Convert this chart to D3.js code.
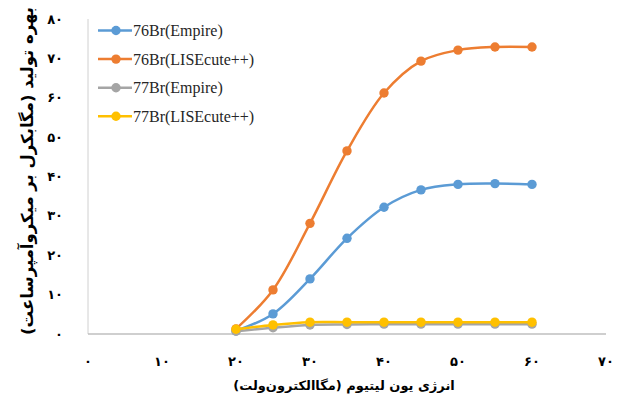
<!DOCTYPE html>
<html>
<head>
<meta charset="utf-8">
<script src="https://cdn.jsdelivr.net/npm/d3@7"></script>
<style>
  html, body { margin: 0; padding: 0; background: #fff; }
  svg { display: block; }
</style>
</head>
<body>
<div id="chart"></div>
<script>
// Lithium-ion energy (MeV) at which each yield was computed
const energies = [20, 25, 30, 35, 40, 45, 50, 55, 60];

// Production yield (MBq/µAh) per isotope and code
const br76Empire    = [0.8, 5.1, 14.0, 24.3, 32.2, 36.6, 38.0, 38.2, 38.0];
const br76Lisecute  = [1.3, 11.2, 28.1, 46.5, 61.2, 69.3, 72.1, 72.9, 72.9];
const br77Empire    = [0.7, 1.6, 2.3, 2.4, 2.5, 2.5, 2.5, 2.5, 2.5];
const br77Lisecute  = [1.2, 2.3, 3.0, 3.0, 3.0, 3.0, 3.0, 3.0, 3.0];

const seriesNames = ["76Br(Empire)", "76Br(LISEcute++)", "77Br(Empire)", "77Br(LISEcute++)"];
const seriesColors = ["#5B9BD5", "#ED7D31", "#A5A5A5", "#FFC000"];

const xTicks = [0, 10, 20, 30, 40, 50, 60, 70];
const yTicks = [0, 10, 20, 30, 40, 50, 60, 70, 80];

const xTitle = "انرژی یون لیتیوم (مگاالکترون‌ولت)";
const yTitle = "بهره تولید (مگابکرل بر میکروآمپرساعت)";

const series = [br76Empire, br76Lisecute, br77Empire, br77Lisecute].map((vals, i) => ({
  name: seriesNames[i],
  color: seriesColors[i],
  points: energies.map((e, j) => ({ x: e, y: vals[j] }))
}));

// Persian digits for tick labels
const faDigits = "۰۱۲۳۴۵۶۷۸۹";
const toFa = n => String(n).replace(/[0-9]/g, d => faDigits[+d]);

const W = 620, H = 397;
const svg = d3.select("#chart").append("svg").attr("width", W).attr("height", H);

const x = d3.scaleLinear().domain([0, 70]).range([88, 606]);
const y = d3.scaleLinear().domain([0, 80]).range([334, 19]);

const persianFont = "'DejaVu Sans', 'Noto Sans', sans-serif";

// Axis lines
svg.append("line")
  .attr("x1", x(0)).attr("x2", x(0)).attr("y1", y(80)).attr("y2", y(0))
  .attr("stroke", "#D0D0D0").attr("stroke-width", 1);
svg.append("line")
  .attr("x1", x(0)).attr("x2", x(70)).attr("y1", y(0)).attr("y2", y(0))
  .attr("stroke", "#BFBFBF").attr("stroke-width", 1.3);

// Tick labels
svg.append("g").selectAll("text").data(yTicks).join("text")
  .attr("x", 63).attr("y", d => y(d))
  .attr("text-anchor", "end").attr("dominant-baseline", "central")
  .attr("font-family", persianFont).attr("font-weight", "bold")
  .attr("font-size", 13).attr("fill", "#000")
  .text(d => toFa(d));

svg.append("g").selectAll("text").data(xTicks).join("text")
  .attr("x", d => x(d)).attr("y", 361)
  .attr("text-anchor", "middle").attr("dominant-baseline", "central")
  .attr("font-family", persianFont).attr("font-weight", "bold")
  .attr("font-size", 13).attr("fill", "#000")
  .text(d => toFa(d));

// Axis titles
svg.append("text")
  .attr("x", 344).attr("y", 385)
  .attr("text-anchor", "middle").attr("dominant-baseline", "central")
  .attr("direction", "rtl")
  .attr("font-family", persianFont).attr("font-weight", "bold")
  .attr("font-size", 13).attr("fill", "#000")
  .text(xTitle);

svg.append("text")
  .attr("transform", "translate(27,171) rotate(-90)")
  .attr("text-anchor", "middle").attr("dominant-baseline", "central")
  .attr("direction", "rtl")
  .attr("font-family", persianFont).attr("font-weight", "bold")
  .attr("font-size", 16.5).attr("fill", "#000")
  .text(yTitle);

// Smoothed series lines with circular markers
const line = d3.line()
  .x(d => x(d.x)).y(d => y(d.y))
  .curve(d3.curveCatmullRom.alpha(0.5));

const g = svg.append("g").selectAll("g").data(series).join("g");
g.append("path")
  .attr("d", d => line(d.points))
  .attr("fill", "none").attr("stroke", d => d.color)
  .attr("stroke-width", 2.5).attr("stroke-linecap", "round");
g.selectAll("circle").data(d => d.points.map(p => ({ ...p, color: d.color }))).join("circle")
  .attr("cx", p => x(p.x)).attr("cy", p => y(p.y)).attr("r", 4.7)
  .attr("fill", p => p.color);

// Legend
const legend = svg.append("g").selectAll("g").data(series).join("g")
  .attr("transform", (d, i) => `translate(0, ${30.5 + i * 28.6})`);
legend.append("line")
  .attr("x1", 98).attr("x2", 132).attr("y1", 0).attr("y2", 0)
  .attr("stroke", d => d.color).attr("stroke-width", 2.5);
legend.append("circle")
  .attr("cx", 116).attr("cy", 0).attr("r", 4.7).attr("fill", d => d.color);
legend.append("text")
  .attr("x", 133).attr("y", 0).attr("dominant-baseline", "central")
  .attr("font-family", "'Liberation Serif', 'Times New Roman', serif")
  .attr("font-size", 16).attr("fill", "#262626")
  .text(d => d.name);
</script>
</body>
</html>
